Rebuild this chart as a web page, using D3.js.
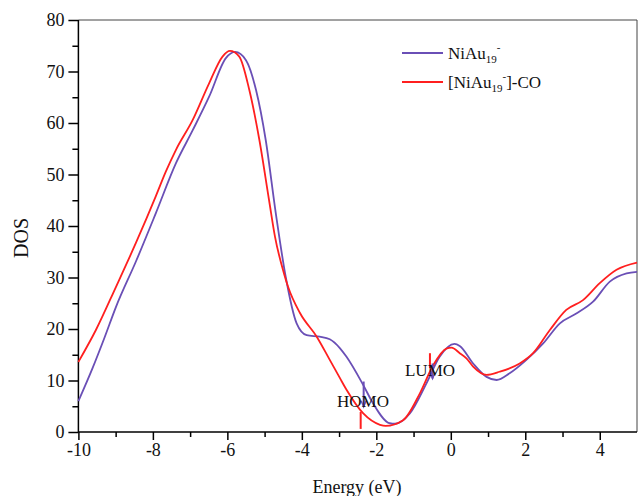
<!DOCTYPE html>
<html><head><meta charset="utf-8">
<script src="https://cdn.jsdelivr.net/npm/d3@7"></script>
<style>
html,body{margin:0;padding:0;background:#fff;}
svg{display:block;font-family:"Liberation Serif","Times New Roman",serif;}
</style></head>
<body>
<svg id="chart" width="638" height="496"></svg>
<script>
// ---- data ----
const seriesNames = ["NiAu19-", "[NiAu19-]-CO"];
const niAuEnergy = [-10,-9.62,-9.3,-8.99,-8.45,-7.92,-7.38,-6.93,-6.49,-6.04,-5.79,-5.5,-5.23,-4.97,-4.7,-4.43,-4.14,-3.87,-3.52,-3.25,-2.98,-2.8,-2.35,-2.09,-1.64,-1.5,-1.1,-0.65,-0.3,0.1,0.24,0.6,0.96,1.23,1.58,2.03,2.48,2.93,3.37,3.82,4.27,4.72,5.0];
const niAuDOS =    [6.0,12.4,18.3,24.3,33.2,42.5,52.2,58.6,65.1,72.6,73.8,72.2,66.4,56.7,42.5,30.0,21.1,18.8,18.5,18.0,16.3,14.6,9.1,5.6,1.7,1.6,3.6,9.5,14.6,17.1,16.7,13.3,10.7,10.1,11.4,14.0,17.2,21.1,23.0,25.3,29.2,30.8,31.1];
const coEnergy = [-10,-9.53,-8.99,-8.45,-7.92,-7.65,-7.38,-6.93,-6.49,-6.13,-5.93,-5.68,-5.41,-5.14,-4.88,-4.72,-4.48,-4.37,-4.05,-3.6,-3.25,-2.98,-2.8,-2.35,-1.9,-1.75,-1.28,-0.83,-0.47,-0.12,0.02,0.24,0.42,0.6,0.96,1.31,1.85,2.21,2.66,3.1,3.55,4.0,4.45,5.0];
const coDOS =    [13.6,19.8,28.2,36.8,45.8,50.6,54.8,60.6,67.7,72.9,74.0,72.9,66.4,56.7,45.0,37.9,30.8,28.2,23.1,18.5,14.0,10.5,8.2,3.6,1.4,1.2,2.3,7.5,13.0,16.2,16.4,15.3,14.3,12.7,11.1,11.7,13.3,15.3,19.8,23.7,25.6,28.9,31.5,32.9];
const xMajorTicks = [-10,-8,-6,-4,-2,0,2,4];
const xMinorTicks = [-9,-7,-5,-3,-1,1,3];
const yMajorTicks = [0,10,20,30,40,50,60,70,80];
const yMinorTicks = [5,15,25,35,45,55,65,75];
// markers: [energy, dosFrom, dosTo]
const homoMarks = { niAu: [-2.34, 9.8, 4.9], co: [-2.42, 3.9, 0.6] };
const lumoMarks = { niAu: [-0.49, 13.3, 10.4], co: [-0.56, 15.3, 12.4] };
const colors = ["#6A4FB6", "#FF1F1F"];

// ---- layout ----
const svg = d3.select("#chart");
const L = 78.4, R = 637, T = 20, B = 432;
const x = d3.scaleLinear().domain([-10,5]).range([L,R]);
const y = d3.scaleLinear().domain([0,80]).range([B,T]);
const fmt = d => String(d);

// frame top/right
svg.append("line").attr("x1",L).attr("x2",R).attr("y1",T).attr("y2",T).attr("stroke","#444").attr("stroke-width",1);
svg.append("line").attr("x1",R).attr("x2",R).attr("y1",T).attr("y2",B).attr("stroke","#444").attr("stroke-width",1);

// axes
const gx = svg.append("g").attr("transform",`translate(0,${B})`)
  .call(d3.axisBottom(x).tickValues(xMajorTicks).tickSize(8).tickPadding(3).tickFormat(fmt));
const gxm = svg.append("g").attr("transform",`translate(0,${B})`)
  .call(d3.axisBottom(x).tickValues(xMinorTicks).tickSize(5).tickFormat(""));
const gy = svg.append("g").attr("transform",`translate(${L},0)`)
  .call(d3.axisLeft(y).tickValues(yMajorTicks).tickSize(10).tickPadding(4).tickFormat(fmt));
const gym = svg.append("g").attr("transform",`translate(${L},0)`)
  .call(d3.axisLeft(y).tickValues(yMinorTicks).tickSize(6).tickFormat(""));
[gx,gxm,gy,gym].forEach(g=>{
  g.selectAll("path.domain").attr("stroke","#000").attr("stroke-width",1.5);
  g.selectAll(".tick line").attr("stroke","#000").attr("stroke-width",1.5);
  g.selectAll("text").attr("font-family","Liberation Serif, Times New Roman, serif").attr("font-size",18).attr("fill","#111");
});
gxm.selectAll("path.domain").remove();
gym.selectAll("path.domain").remove();
gx.select("path.domain").attr("d",`M${L},0H${R}`);
gy.select("path.domain").attr("d",`M0,${B}V${T}`);

// axis titles
svg.append("text").attr("x",357).attr("y",493).attr("text-anchor","middle")
  .attr("font-size",18).attr("fill","#111").text("Energy (eV)");
svg.append("text").attr("transform","translate(28,238) rotate(-90)").attr("text-anchor","middle")
  .attr("font-size",20).attr("fill","#111").text("DOS");

// curves
const line = d3.line().x(d=>x(d[0])).y(d=>y(d[1])).curve(d3.curveMonotoneX);
const s1 = niAuEnergy.map((e,i)=>[e,niAuDOS[i]]);
const s2 = coEnergy.map((e,i)=>[e,coDOS[i]]);
svg.append("path").datum(s1).attr("d",line).attr("fill","none").attr("stroke",colors[0]).attr("stroke-width",1.8);
svg.append("path").datum(s2).attr("d",line).attr("fill","none").attr("stroke",colors[1]).attr("stroke-width",1.8);

// markers
function arrow(m, col){
  svg.append("line").attr("x1",x(m[0])).attr("x2",x(m[0])).attr("y1",y(m[1])).attr("y2",y(m[2]))
    .attr("stroke",col).attr("stroke-width",2);
  const xe = x(m[0]), ye = y(m[2]);
  svg.append("path").attr("d",`M${xe-2.5},${ye-6}L${xe},${ye}L${xe+2.5},${ye-6}`).attr("fill","none").attr("stroke",col).attr("stroke-width",1.5);
}
function tick(m, col){
  svg.append("line").attr("x1",x(m[0])).attr("x2",x(m[0])).attr("y1",y(m[1])).attr("y2",y(m[2]))
    .attr("stroke",col).attr("stroke-width",2);
}
arrow(homoMarks.niAu, colors[0]);
tick(homoMarks.co, colors[1]);
tick(lumoMarks.co, colors[1]);
arrow(lumoMarks.niAu, colors[0]);

svg.append("text").attr("x",363).attr("y",407).attr("text-anchor","middle").attr("font-size",17).attr("fill","#111").text("HOMO");
svg.append("text").attr("x",430).attr("y",376).attr("text-anchor","middle").attr("font-size",17).attr("fill","#111").text("LUMO");

// legend
const leg = [{c:colors[0], y:53}, {c:colors[1], y:82}];
leg.forEach((d,i)=>{
  svg.append("line").attr("x1",402).attr("x2",443).attr("y1",d.y).attr("y2",d.y).attr("stroke",d.c).attr("stroke-width",1.8);
});
const t1 = svg.append("text").attr("x",448).attr("y",59).attr("font-size",17).attr("fill","#111");
t1.append("tspan").text("NiAu");
t1.append("tspan").attr("font-size",11).attr("dy",4).text("19");
t1.append("tspan").attr("font-size",11).attr("dy",-12).text("-");
const t2 = svg.append("text").attr("x",448).attr("y",88).attr("font-size",17).attr("fill","#111");
t2.append("tspan").text("[NiAu");
t2.append("tspan").attr("font-size",11).attr("dy",4).text("19");
t2.append("tspan").attr("font-size",11).attr("dy",-12).text("-");
t2.append("tspan").attr("dy",8).text("]-CO");
</script>
</body></html>
